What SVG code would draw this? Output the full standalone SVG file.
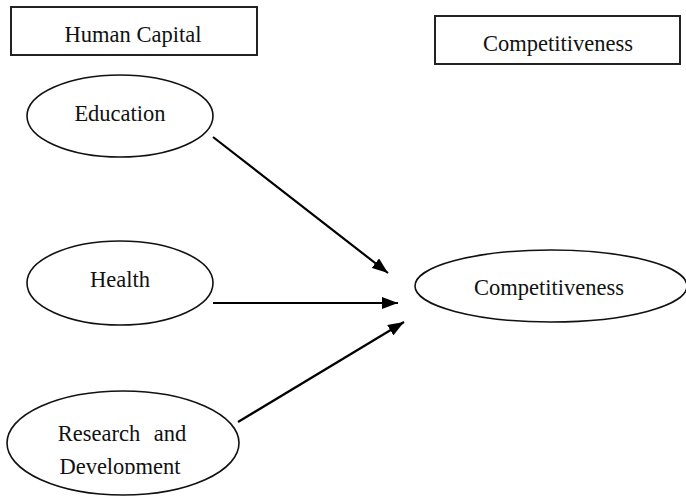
<svg xmlns="http://www.w3.org/2000/svg" width="686" height="498" viewBox="0 0 686 498">
<style>
.box{fill:#fff;stroke:#222;stroke-width:2}
.ell{fill:#fff;stroke:#111;stroke-width:1.6}
.t{font-family:"Liberation Serif","Times New Roman",serif;font-size:22.5px;fill:#111;text-anchor:middle}
.c{stroke:#000;stroke-width:2.2;fill:none;marker-end:url(#ah)}
</style>
<defs>
<marker id="ah" markerUnits="userSpaceOnUse" markerWidth="16" markerHeight="12" refX="16" refY="6" orient="auto">
<path d="M0,0 L16,6 L0,12 Z" fill="#000"/>
</marker>
<clipPath id="clipRD"><rect x="0" y="380" width="300" height="94"/></clipPath>
</defs>
<rect width="686" height="498" fill="#fff"/>
<g id="human-capital">
<rect class="box" x="11" y="7" width="246" height="48"/>
<text class="t" x="133" y="42">Human Capital</text>
</g>
<g id="competitiveness-label">
<rect class="box" x="435" y="16" width="245" height="48"/>
<text class="t" x="558" y="51">Competitiveness</text>
</g>
<g id="education">
<ellipse class="ell" cx="120" cy="116" rx="93" ry="41"/>
<text class="t" x="120" y="121">Education</text>
</g>
<g id="health">
<ellipse class="ell" cx="120" cy="283" rx="93" ry="42"/>
<text class="t" x="120" y="287">Health</text>
</g>
<g id="research">
<ellipse class="ell" cx="123" cy="443" rx="116" ry="52"/>
<text class="t" x="122" y="441" word-spacing="8">Research and</text>
<text class="t" x="120" y="474" clip-path="url(#clipRD)">Development</text>
</g>
<g id="competitiveness">
<ellipse class="ell" cx="551" cy="286" rx="136" ry="36"/>
<text class="t" x="549" y="295">Competitiveness</text>
</g>
<g id="connectors">
<line class="c" x1="213" y1="137" x2="388" y2="273"/>
<line class="c" x1="213" y1="303" x2="398" y2="303"/>
<line class="c" x1="238" y1="422" x2="404" y2="322"/>
</g>
</svg>
